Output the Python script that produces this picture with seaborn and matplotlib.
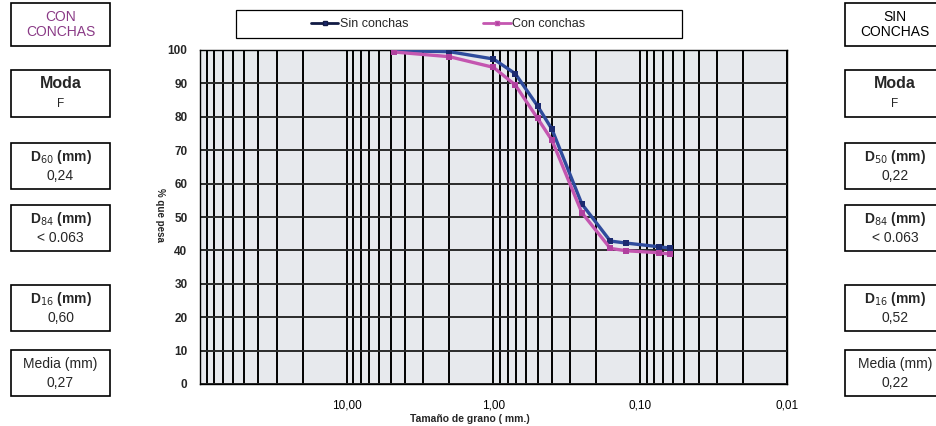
import numpy as np
import pandas as pd
import seaborn as sns
import matplotlib.pyplot as plt
from matplotlib.patches import Rectangle
from matplotlib.ticker import LogLocator, FixedLocator, FuncFormatter, NullFormatter

# sieve sizes (mm) and cumulative % passing
sizes = [4.75, 2.0, 1.0, 0.71, 0.5, 0.4, 0.25, 0.16, 0.125, 0.075, 0.063]
sin_conchas = [99.8, 99.5, 97.3, 92.9, 83.2, 76.3, 53.9, 42.8, 42.2, 41.1, 40.7]
con_conchas = [99.4, 98.0, 94.8, 89.5, 79.5, 73.0, 51.3, 40.6, 39.9, 39.3, 38.9]

series_names = ["Sin conchas", "Con conchas"]
colors = {"Sin conchas": "#2f4b9c", "Con conchas": "#c456b0"}
marker_colors = {"Sin conchas": "#1c2a70", "Con conchas": "#b0409e"}

x_ticks = [10, 1, 0.1, 0.01]
y_ticks = list(range(0, 101, 10))

# side panels
left_title = "CON\nCONCHAS"
right_title = "SIN\nCONCHAS"
box_labels = ["Moda", r"D$_{60}$ (mm)", r"D$_{84}$ (mm)", r"D$_{16}$ (mm)", "Media (mm)"]
right_labels = ["Moda", r"D$_{50}$ (mm)", r"D$_{84}$ (mm)", r"D$_{16}$ (mm)", "Media (mm)"]
left_values = ["F", "0,24", "< 0.063", "0,60", "0,27"]
right_values = ["F", "0,22", "< 0.063", "0,52", "0,22"]

df = pd.DataFrame({
    "size": sizes * 2,
    "pct": sin_conchas + con_conchas,
    "serie": ["Sin conchas"] * len(sizes) + ["Con conchas"] * len(sizes),
})

sns.set_style("white")
plt.rcParams["font.family"] = ["Liberation Sans", "DejaVu Sans"]

W, H = 937, 426
fig = plt.figure(figsize=(W / 100, H / 100), dpi=100)
fig.patch.set_facecolor("white")

ax_l, ax_r, ax_t, ax_b = 200, 787, 50, 384
ax = fig.add_axes([ax_l / W, 1 - ax_b / H, (ax_r - ax_l) / W, (ax_b - ax_t) / H])
ax.set_facecolor("#e7e9ed")

sns.lineplot(data=df, x="size", y="pct", hue="serie", hue_order=series_names,
             palette=colors, marker="s", markersize=4.5, linewidth=2.4,
             markeredgewidth=0, ax=ax, legend=False, zorder=5, sort=False)
for line, name in zip(ax.get_lines(), series_names):
    line.set_markerfacecolor(marker_colors[name])

ax.set_xscale("log")
ax.set_xlim(100, 0.01)
ax.set_ylim(0, 100)

ax.xaxis.set_major_locator(FixedLocator(x_ticks))
ax.xaxis.set_major_formatter(FuncFormatter(lambda v, p: f"{v:.2f}".replace(".", ",")))
ax.xaxis.set_minor_locator(LogLocator(base=10, subs=np.arange(2, 10)))
ax.xaxis.set_minor_formatter(NullFormatter())
ax.set_yticks(y_ticks)

ax.grid(which="both", axis="x", color="black", linewidth=1.4)
ax.grid(which="major", axis="y", color="#2a2a2a", linewidth=1.4)
ax.set_axisbelow(True)

ax.tick_params(axis="x", which="major", length=4, width=1, direction="inout",
               labelsize=8.5, pad=9, colors="black")
ax.tick_params(axis="x", which="minor", length=0)
ax.tick_params(axis="y", length=3, width=1, labelsize=8.5, pad=6)
for lab in ax.get_yticklabels():
    lab.set_fontweight("bold")
for s in ax.spines.values():
    s.set_color("black")
    s.set_linewidth(1.0)

ax.set_xlabel("")
ax.set_ylabel("")
fig.text(160 / W, 1 - 215 / H, "% que pesa", rotation=270, ha="center", va="center",
         fontsize=7, fontweight="bold")
fig.text(470 / W, 1 - 419 / H, "Tamaño de grano ( mm.)", ha="center", va="center",
         fontsize=7.5, fontweight="bold")

# legend with separate frame
fig.patches.append(Rectangle((236 / W, 1 - 38 / H), 446 / W, 28 / H, transform=fig.transFigure,
                             facecolor="white", edgecolor="black", linewidth=0.9))
handles = [plt.Line2D([], [], color="#111a44" if n == "Sin conchas" else colors[n],
                      marker="s", markersize=3, linewidth=2, markerfacecolor=marker_colors[n])
           for n in series_names]
fig.legend(handles, series_names, loc="center", bbox_to_anchor=(448 / W, 1 - 24 / H),
           ncol=2, frameon=False, fontsize=9, handlelength=2.2, handletextpad=0.1,
           columnspacing=6)


def draw_box(x0, x1, y0, y1, top, bottom, top_kw, bottom_kw):
    fig.patches.append(Rectangle((x0 / W, 1 - y1 / H), (x1 - x0) / W, (y1 - y0) / H,
                                 transform=fig.transFigure, facecolor="white",
                                 edgecolor="black", linewidth=1.2, clip_on=False))
    cx = (x0 + x1) / 2
    if bottom is None:
        fig.text(cx / W, 1 - (y0 + y1) / 2 / H, top, ha="center", va="center",
                 linespacing=1.1, **top_kw)
    else:
        fig.text(cx / W, 1 - (y0 + 14) / H, top, ha="center", va="center", **top_kw)
        fig.text(cx / W, 1 - (y1 - 13) / H, bottom, ha="center", va="center", **bottom_kw)


box_y = [(70, 117), (143, 189), (205, 251), (285, 331), (350, 396)]
title_kw_l = dict(fontsize=10, color="#8a3a86")
title_kw_r = dict(fontsize=10, color="black")
draw_box(11, 110, 3, 46, left_title, None, title_kw_l, None)
draw_box(845, 945, 3, 46, right_title, None, title_kw_r, None)
for i, (y0, y1) in enumerate(box_y):
    tkw = dict(fontsize=11.5 if i == 0 else 10, fontweight="bold" if i < 4 else "normal")
    bkw = dict(fontsize=8.5 if i == 0 else 10)
    draw_box(11, 110, y0, y1, box_labels[i], left_values[i], tkw, bkw)
    draw_box(845, 945, y0, y1, right_labels[i], right_values[i], tkw, bkw)

fig.savefig("out.png", dpi=100)
